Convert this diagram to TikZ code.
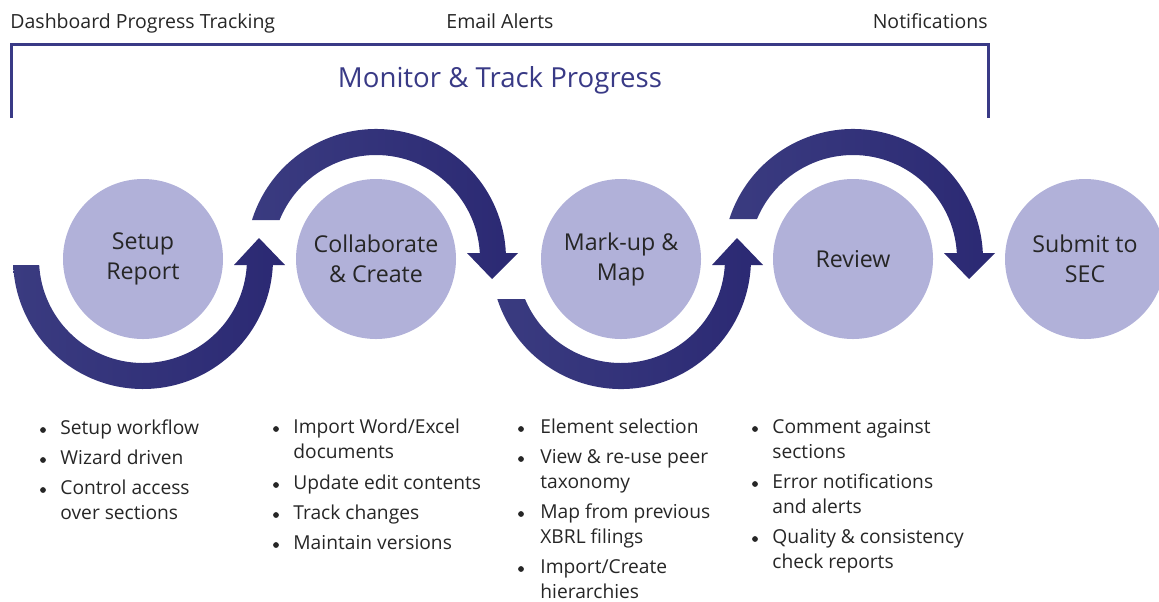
\documentclass[tikz,border=0pt]{standalone}
\usepackage{fontspec}
\setmainfont{Open Sans}
\usetikzlibrary{positioning}

\definecolor{stagefill}{HTML}{B1B1D9}
\definecolor{arrowl}{HTML}{3A3B80}
\definecolor{arrowr}{HTML}{2B2973}
\definecolor{navy}{HTML}{393A86}
\definecolor{txt}{HTML}{262626}

\tikzset{
  stage/.style={circle, fill=stagefill, minimum size=80pt, inner sep=0pt, align=center,
    text=txt, font=\fontsize{11.6}{15}\selectfont},
  % multi-line items sit on the baseline of their last line
  item/.style={anchor=base west, align=left, inner sep=0pt, text=txt,
    font=\fontsize{9.6}{12.5}\selectfont},
  dot/.style={circle, fill=txt, minimum size=2.9pt, inner sep=0pt},
  toplabel/.style={inner sep=0pt, text=txt, font=\fontsize{9.75}{12}\selectfont},
  arrowfill/.style={left color=arrowl, right color=arrowr},
  % curved arrow under a stage, #1 = drop of its left cut below the centre
  lowarc/.pic={
    \shade[arrowfill]
      ({180-asin(#1/130)}:130) arc[start angle={180-asin(#1/130)}, end angle={asin(6/130)}, radius=130]
      -- (142,6) -- (116,-21) -- (91,6)
      -- ({asin(6/104)}:104) arc[start angle={asin(6/104)}, end angle={180-asin(#1/104)}, radius=104]
      -- cycle;
  },
  % curved arrow over a stage, #1 = rise of its left cut above the centre
  higharc/.pic={
    \shade[arrowfill]
      ({180+asin(#1/130)}:130) arc[start angle={180+asin(#1/130)}, end angle={360-asin(6/130)}, radius=130]
      -- (142,-6) -- (116,20) -- (91,-6)
      -- ({360-asin(6/104)}:104) arc[start angle={360-asin(6/104)}, end angle={180+asin(#1/104)}, radius=104]
      -- cycle;
  }
}

\begin{document}
\begin{tikzpicture}[x=0.5pt,y=-0.5pt]
  \useasboundingbox (0,0) rectangle (1159,601);

  % header
  \node[toplabel,anchor=base west] (dash) at (10,28) {Dashboard Progress Tracking};
  \node[toplabel,anchor=base] (email) at (500,28) {Email Alerts};
  \node[toplabel,anchor=base east] (notif) at (988,28) {Notifications};
  \draw[navy,line width=1.5pt] (11,118) -- (11,44) -- (988,44) -- (988,118);
  \node[anchor=base,inner sep=0pt,text=navy,font=\fontsize{13.8}{16}\selectfont] (monitor) at (500,87) {Monitor \& Track Progress};

  % stages
  \node[stage] (setup) at (143,259) {Setup\\Report};
  \node[stage] (collab) at (376,259) {Collaborate\\\& Create};
  \node[stage] (markup) at (621,259) {Mark-up \&\\Map};
  \node[stage] (review) at (853,259) {Review};
  \node[stage] (submit) at (1085,259) {Submit to\\SEC};

  \pic at (setup.center) {lowarc=6};
  \pic at (collab.center) {higharc=39};
  \pic at (markup.center) {lowarc=40};
  \pic at (review.center) {higharc=40};

  % lists
  \node[dot] (d11) at (43,430) {};
  \node[item] (t11) at (60,434) {Setup workflow};
  \node[dot] (d12) at (43,460) {};
  \node[item] (t12) at (60,464) {Wizard driven};
  \node[dot] (d13) at (43,490) {};
  \node[item] (t13) at (60,519) {Control access\\over sections};

  \node[dot] (d21) at (276,429) {};
  \node[item] (t21) at (293,458) {Import Word/Excel\\documents};
  \node[dot] (d22) at (276,485) {};
  \node[item] (t22) at (293,489) {Update edit contents};
  \node[dot] (d23) at (276,515) {};
  \node[item] (t23) at (293,519) {Track changes};
  \node[dot] (d24) at (276,545) {};
  \node[item] (t24) at (293,549) {Maintain versions};

  \node[dot] (d31) at (521,429) {};
  \node[item] (t31) at (540,433) {Element selection};
  \node[dot] (d32) at (521,459) {};
  \node[item] (t32) at (540,488) {View \& re-use peer\\taxonomy};
  \node[dot] (d33) at (521,514) {};
  \node[item] (t33) at (540,543) {Map from previous\\XBRL filings};
  \node[dot] (d34) at (521,569) {};
  \node[item] (t34) at (540,598) {Import/Create\\hierarchies};

  \node[dot] (d41) at (755,429) {};
  \node[item] (t41) at (772,458) {Comment against\\sections};
  \node[dot] (d42) at (755,484) {};
  \node[item] (t42) at (772,513) {Error notifications\\and alerts};
  \node[dot] (d43) at (755,539) {};
  \node[item] (t43) at (772,568) {Quality \& consistency\\check reports};
\end{tikzpicture}
\end{document}
